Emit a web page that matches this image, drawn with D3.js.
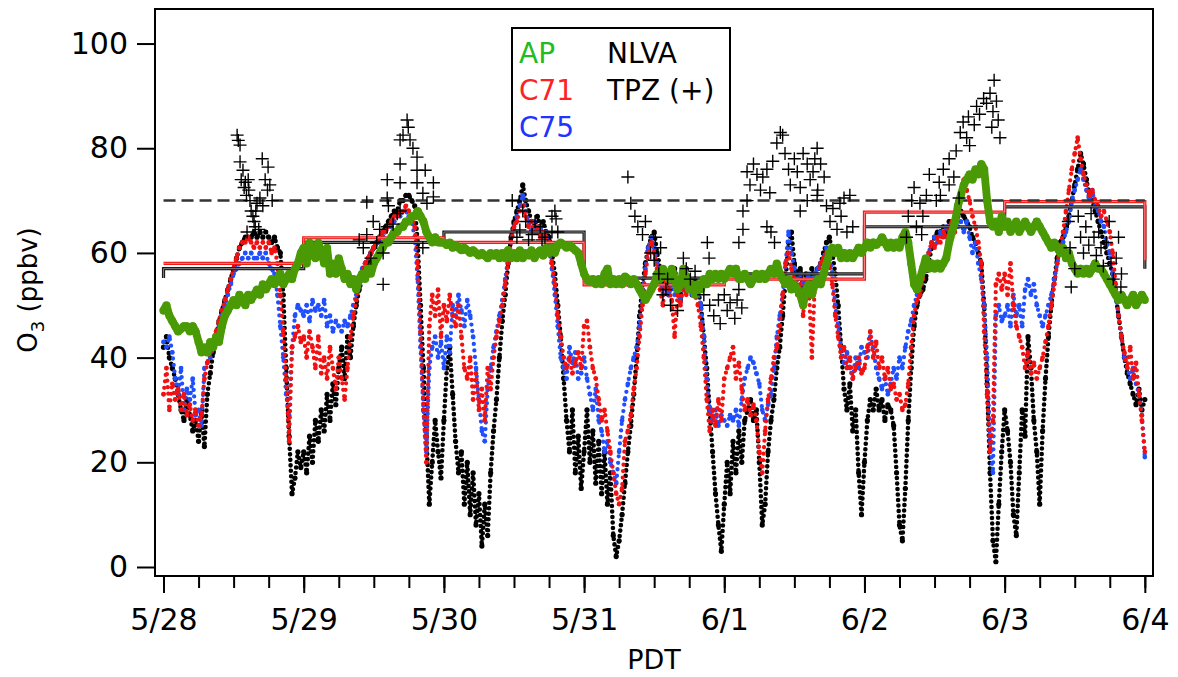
<!DOCTYPE html>
<html>
<head>
<meta charset="utf-8">
<script src="https://cdn.jsdelivr.net/npm/d3@7"></script>
<style>
body { margin: 0; background: #fff; }
svg { font-family: "DejaVu Sans", sans-serif; }
</style>
</head>
<body>
<svg id="chart" width="1178" height="677"></svg>
<script>
// O3 (ppbv), half-hour samples from 5/28 00:00 PDT, one row per day
var sampleStep = 0.5; // hours

var nlva = [
  42,44,40,38,36,33,30,28,32,29,26,28,24,30,23,33,37,41,44,47,49,51,53,55,57,59,61,62,63,63,63,64,63,64,63,64,63,62,63,61,60,52,38,25,14,17,22,19,
  22,18,25,20,28,24,30,26,33,28,35,31,38,42,36,44,40,46,50,53,55,57,58,60,61,62,63,64,65,66,67,68,68,70,70,71,71,70,69,62,50,38,25,12,20,28,22,17,
  28,38,42,33,24,18,22,12,20,10,18,8,14,4,12,6,18,26,32,40,47,52,58,63,66,68,70,73,70,68,66,65,67,65,66,64,63,60,56,50,44,36,28,22,30,18,25,15,
  22,30,20,26,16,24,14,22,12,18,6,2,5,10,16,22,27,33,40,48,54,58,61,63,64,60,57,54,56,52,55,57,54,51,55,57,54,52,55,53,50,44,38,30,22,14,8,3,
  12,20,14,24,18,26,20,28,30,32,28,30,20,8,12,22,28,32,38,42,48,55,62,64,58,55,57,53,56,54,57,55,57,58,60,62,63,60,56,50,42,34,30,35,26,30,18,10,
  20,28,32,30,34,30,32,28,31,30,27,18,8,5,15,28,38,46,50,52,53,55,58,61,63,64,64,65,64,66,65,66,67,68,67,66,65,63,62,60,58,50,35,18,5,1,12,22,
  30,26,20,10,6,18,30,25,44,38,28,22,12,26,36,44,50,55,59,62,63,65,67,70,73,76,79,77,74,71,70,68,66,64,62,60,58,56,52,48,44,40,37,35,33,31,34,30,32
];

var c71 = [
  33,38,30,35,32,34,30,33,29,31,28,30,27,29,36,39,41,43,45,47,49,51,53,55,57,59,61,62,62,63,62,61,62,61,62,61,62,60,61,58,52,45,36,24,42,44,46,43,
  44,40,45,42,38,44,37,40,36,42,38,34,40,36,32,38,44,48,51,54,56,58,59,60,61,62,63,64,64,65,66,67,67,68,68,69,68,67,65,58,45,30,20,46,52,48,53,44,
  50,47,52,48,46,50,44,38,36,40,32,37,30,34,28,38,34,40,44,47,50,54,58,62,65,66,68,69,67,65,66,64,65,63,64,63,62,58,54,48,44,40,38,40,37,39,41,38,
  46,47,42,38,36,32,28,30,26,22,18,14,12,15,24,26,29,34,38,44,50,56,60,62,60,57,53,50,55,53,51,44,52,50,54,52,55,53,52,50,46,40,32,26,30,27,32,28,
  36,38,40,42,36,39,34,30,32,29,31,28,22,18,26,32,36,40,42,46,52,58,60,57,55,52,54,48,55,53,40,54,55,58,59,60,58,54,48,44,40,42,38,40,36,38,40,37,
  38,42,45,40,43,38,40,36,38,34,35,32,33,30,31,35,42,48,51,52,55,58,60,62,61,63,62,64,63,65,66,64,68,70,74,72,70,67,65,62,58,45,33,22,28,54,56,53,
  56,52,58,50,46,44,42,38,41,37,39,36,38,40,43,46,50,54,58,61,64,68,72,76,79,82,78,75,73,71,72,70,69,67,68,66,64,60,54,48,44,41,38,42,36,39,33,28,22
];

var c75 = [
  43,42,44,41,36,33,38,30,34,32,36,29,30,27,38,39,40,42,44,46,48,50,52,54,56,57,58,59,60,59,60,59,59,60,59,60,58,57,56,52,46,40,33,29,42,48,50,49,
  48,50,47,51,49,50,48,51,46,48,45,47,46,45,47,46,48,50,52,55,57,58,59,60,61,62,62,63,64,65,65,66,67,67,68,68,67,66,63,55,42,30,22,38,42,44,40,43,
  38,44,41,50,48,52,49,46,51,48,44,38,32,26,24,34,38,42,45,48,51,55,59,62,65,67,69,71,68,66,64,66,64,65,63,64,61,57,52,46,40,38,36,42,39,41,36,37,
  40,36,33,30,34,28,26,22,24,20,18,16,22,28,32,35,38,40,42,46,52,57,61,63,61,58,55,52,54,52,54,52,53,51,53,55,54,52,54,52,50,44,36,30,28,30,27,29,
  28,27,29,28,30,27,32,36,38,40,39,37,35,30,28,31,33,38,44,48,52,58,64,60,57,55,56,54,55,56,54,56,57,58,59,61,60,56,50,46,42,39,41,38,36,40,38,42,
  41,40,44,42,38,36,34,36,33,35,38,36,40,38,42,45,47,50,52,54,56,58,60,62,63,62,64,63,65,64,65,66,65,66,64,66,63,60,62,58,55,50,40,24,18,48,50,47,
  48,50,46,52,48,50,46,53,55,52,54,50,48,46,48,50,52,55,58,60,62,64,66,70,72,74,76,74,72,70,72,69,68,66,65,62,60,56,52,48,44,40,38,36,38,35,33,29,21
];

var ap = [
  49,50,48,47,46,45,45.5,46,46,45,46,45,43,41,42,41,43,42,44,43,46,48,49,50,51,50,52,51,50,52,51,52,53,52,54,53,54,55,54,55,56,54,55,56,55,57,58,60,
  61,58,62,60,59,62,60,58,61,56,58,56,59,57,55,56,54,55,53,55,56,55,57,56,58,59,60,61,62,62,63,64,64,65,65,66,66,67,67,68,67,66,64,63,62,63,62,62,
  62,61.5,62,61,61.5,61,60.5,61,60.5,60,60.5,60,59.5,60,59.5,59,60,59.5,60,59,60,59,60.5,59,60,59,60.5,59,60,59.5,60.5,59,60,60.5,59.5,61,60,61,60,61.5,62,61.5,61,61.5,61,60.5,60,58,
  56,55,54.5,55,54,55,54,56,57,54,55,54,55,54,55.5,55,54,55,54,53,52,51,52,53,54,56,55,57,56,55,57,55,53,54,57,55,53,54,52,54,53,55,54,56,55,56,55,56,
  55,56,57,56,57,55,55,56,55,54,55,56,55,56,55,56,57,56,58,56,55,54,55,53,54,53,52,50,53,54,52,54,55,54,56,58,60,61,60,61,59,60,59,60,59,60,61,60,
  61,62,61,62,61.5,62,63,62,61,62,61,62,61,63,64,62,58,54,53,55,57,59,57,58,57,58,57,58,59,62,64,66,69,71,73,74,75,74,76,75,77,76,70,66,65,66,64,67,
  65,66,64,65,66,64,65,66,65,64,65,66,65,64,63,62,61,62,61,60,61,59,60,58,57,56,57,56,57,56,57,58,57,57,56,55,54,53,52,51,52,51,50,51,52,50,51,52,51
];

// TPZ (+): [hour since 5/28 00:00, ppbv]
var tpz = [
  [12.6,82.5],[12.8,81.5],[13.1,80.6],[13.1,77.4],[13.6,75.8],[13.3,74],[14.0,73.5],[14.5,74],[13.8,72.5],[14.6,72],[14.2,71],[14.8,70],
  [15.0,68],[15.3,67],[15.5,66],[14.3,64],[15.7,65],[16.3,64.5],[16.9,78],[17.9,76.4],[17.4,74],[18.2,73],[17.8,72],[18.6,70],[16.5,70.5],
  [17.0,69],[16.0,69.5],[15.8,68],
  [41.7,85.4],[41.9,84],[41.0,82.5],[40.5,81.6],[42.2,81.6],[42.7,80],[43.4,78.3],[40.5,77],[43.4,75.8],[44.8,75.8],[46.2,73.4],[38.3,74],
  [40.5,73.4],[43.4,73.4],[44.4,71.4],[38.3,70.5],[38.5,69],[46.2,70.7],[34.8,69.7],[45.1,69.5],[35.9,66],[37.0,64.5],[38.3,65],[34.8,63.5],
  [36.5,62],[37.6,60],[35.5,59],[40.0,67.5],[40.5,68],[39.3,65.5],[37.6,54],[44.4,61],[33.5,62.5],[34.2,61],
  [59.7,70],[60.5,63],[61,64.4],[62.5,62.5],[63.1,63.5],[63.6,66],[64.5,65],[65.3,63],[66.5,67],[67.0,68],[67.2,66.5],[66.5,64],[67.5,64],
  [64.8,62.5],[62.0,66],[61.5,68],
  [79.5,74.5],[80.0,69.5],[80.7,67],[81.2,65],[82.0,63.5],[82.5,66],[83.4,60],[84.2,63],[84.0,58.6],[84.8,56],[85.1,61],[86.3,55],[85.5,52],
  [86.8,50],[88.0,49],[86.0,53],[89.0,59],[89.5,57],[90.2,55],[91.0,56.5],[93.1,62],[93.4,59],[92.5,52],[93.5,50],[94.2,48],[95.0,51],
  [95.3,46.5],[96.0,52],[96.5,49],[97.0,50.5],[97.8,47.5],[98.2,51],[99.0,49.5],[98.5,53],
  [98.5,62],[99.2,64.5],[99.2,68],[99.9,70],[100.4,73],[99.9,75.5],[101.0,77],[101.6,75],[102.2,72],[102.6,74.5],[103.3,76],[103.8,71.5],
  [104.3,77.5],[103.3,65],[104.0,64],[104.6,62],[105.0,81],[105.6,83],[106.0,82.5],[106.4,79],[107.0,76],[107.3,73],[108.0,78],[108.5,75.5],
  [109.0,72.5],[109.5,79],[110.2,77],[110.7,74],[110.2,70],[109.0,68],[111.2,75.5],[111.9,71],[111.5,78],[111.9,80],[112.5,77],[113.1,74.5],
  [112.0,72],[113.5,69],[114.6,68.5],[114.1,66],[115.3,64.5],[116.0,67],[116.5,70.5],[117.5,71],[117.0,64],[115.8,69.5],[118.0,65],
  [127.2,63],[127.5,67],[128.1,70],[128.5,72.5],[128.9,65],[129.8,63.5],[130.0,67],[129.5,69.5],[130.6,71],[131.1,75],[132.3,70],[132.8,73.5],
  [133.5,76],[133.0,71],[134.5,73],[134.5,78],[135.3,74.5],[135.7,79.5],[136.2,70.5],[136.4,83],[136.9,85],[137.5,82],[137.8,86],[138.0,80.5],
  [138.8,84.5],[139.2,88],[139.7,86.5],[140.4,89.5],[140.9,88.6],[141.5,90.5],[142.0,87],[142.2,93],[142.6,89],[142.9,85.4],[143.2,82],[141.8,84],
  [154.9,66],[155.2,61],[155.4,53.5],[156.0,57],[156.6,67],[157.0,63],[157.5,60],[157.9,65],[158.4,61.5],[158.8,67.5],[159.3,63],[159.7,59.5],
  [160.1,64],[160.5,61],[160.9,57.5],[161.4,62],[161.9,66],[162.2,58],[162.6,55],[163.1,59],[163.5,63],[164.0,56],[163.9,53.5]
];

// daily values (step lines), [hour, ppbv]
var nlvaDaily = [[0,55.2],[0,57],[24,62],[48,64],[72,55.2],[96,56],[120,65],[144,68.8],[168,57]];
var c71Daily = [[0,58],[24,62.9],[48,62],[72,53.9],[96,55],[120,67.8],[144,69.8],[168,58.6]];
var standardO3 = 70;

var dayLabels = ["5/28", "5/29", "5/30", "5/31", "6/1", "6/2", "6/3", "6/4"];
var yTicks = [0, 20, 40, 60, 80, 100];

var svg = d3.select("#chart");
var plotL = 155, plotR = 1153, plotT = 9, plotB = 576;

var x = d3.scaleLinear().domain([-1.46, 169.4]).range([plotL, plotR]);
var y = d3.scaleLinear().domain([-1.72, 106.6]).range([plotB, plotT]);

function pts(arr) {
  return arr.map(function(v, i) { return [i * sampleStep, v]; });
}

var plot = svg.append("g");
var trace = d3.line()
  .x(function(d) { return x(d[0]); })
  .y(function(d) { return y(d[1]); });

// each site: dots at the samples plus a dotted trace between them,
// so the record reads as the dense scatter of the original
function series(arr, color, r, dotW, gap) {
  var p = pts(arr);
  plot.append("path").attr("d", trace(p))
    .attr("fill", "none").attr("stroke", color).attr("stroke-width", dotW)
    .attr("stroke-linecap", "round").attr("stroke-dasharray", "0 " + gap);
  plot.append("g").selectAll("circle")
    .data(p)
    .enter().append("circle")
      .attr("cx", function(d) { return x(d[0]); })
      .attr("cy", function(d) { return y(d[1]); })
      .attr("r", r)
      .attr("fill", color);
}

series(nlva, "#000", 2.6, 4.6, 5.5);
series(c75, "#1f4fff", 2.4, 4.3, 6.5);
series(c71, "#f21010", 2.4, 4.3, 6.5);

// daily step lines
var stepLine = d3.line()
  .x(function(d) { return x(d[0]); })
  .y(function(d) { return y(d[1]); })
  .curve(d3.curveStepAfter);

[[nlvaDaily, "#1a1a1a", "#9a9a9a"], [c71Daily, "#f01818", "#ffa0a0"]].forEach(function(s) {
  plot.append("path").attr("d", stepLine(s[0]))
    .attr("fill", "none").attr("stroke", s[1]).attr("stroke-width", 3.2);
  plot.append("path").attr("d", stepLine(s[0]))
    .attr("fill", "none").attr("stroke", s[2]).attr("stroke-width", 0.8);
});

// 70 ppbv standard
plot.append("line")
  .attr("x1", x(0)).attr("x2", x(168))
  .attr("y1", y(standardO3)).attr("y2", y(standardO3))
  .attr("stroke", "#333").attr("stroke-width", 2.5)
  .attr("stroke-dasharray", "12,6");

series(ap, "#4a9a06", 4, 8, 2.5);

plot.append("g").selectAll("path")
  .data(tpz)
  .enter().append("path")
    .attr("d", "M-6.5,0H6.5M0,-6.5V6.5")
    .attr("transform", function(d) { return "translate(" + x(d[0]) + "," + y(d[1]) + ")"; })
    .attr("stroke", "#000").attr("stroke-width", 1.4);

// frame
svg.append("rect")
  .attr("x", plotL).attr("y", plotT)
  .attr("width", plotR - plotL).attr("height", plotB - plotT)
  .attr("fill", "none").attr("stroke", "#000").attr("stroke-width", 2);

// axes
var minorX = svg.append("g")
  .attr("transform", "translate(0," + plotB + ")")
  .call(d3.axisBottom(x).tickValues(d3.range(0, 169, 6)).tickSize(12).tickFormat(""));
var majorX = svg.append("g")
  .attr("transform", "translate(0," + plotB + ")")
  .call(d3.axisBottom(x).tickValues(d3.range(0, 169, 24)).tickSize(17).tickPadding(16)
    .tickFormat(function(d, i) { return dayLabels[i]; }));
var yAxis = svg.append("g")
  .attr("transform", "translate(" + plotL + ",0)")
  .call(d3.axisLeft(y).tickValues(yTicks).tickSize(18).tickPadding(9));

[minorX, majorX, yAxis].forEach(function(g) {
  g.select(".domain").remove();
  g.selectAll(".tick line").attr("stroke", "#000").attr("stroke-width", 2);
  g.selectAll(".tick text").attr("fill", "#000")
    .style("font-family", "DejaVu Sans").style("font-size", "30px");
});

svg.append("text")
  .attr("x", (plotL + plotR) / 2).attr("y", 669)
  .attr("text-anchor", "middle")
  .style("font-size", "27px")
  .text("PDT");

var ylab = svg.append("text")
  .attr("transform", "translate(37,290) rotate(-90)")
  .attr("text-anchor", "middle")
  .style("font-size", "26px");
ylab.append("tspan").text("O");
ylab.append("tspan").attr("dy", 7).style("font-size", "18px").text("3");
ylab.append("tspan").attr("dy", -7).text(" (ppbv)");

// legend
var legend = svg.append("g");
legend.append("rect")
  .attr("x", 512).attr("y", 28).attr("width", 218).attr("height", 122)
  .attr("fill", "#fff").attr("stroke", "#000").attr("stroke-width", 2);
var legendItems = [
  ["AP", 519, 63, "#22bb22"],
  ["C71", 519, 100, "#ff2222"],
  ["C75", 519, 137, "#2233ff"],
  ["NLVA", 607, 63, "#000"],
  ["TPZ (+)", 607, 100, "#000"]
];
legend.selectAll("text")
  .data(legendItems)
  .enter().append("text")
    .attr("x", function(d) { return d[1]; })
    .attr("y", function(d) { return d[2]; })
    .attr("fill", function(d) { return d[3]; })
    .style("font-size", "28px")
    .text(function(d) { return d[0]; });
</script>
</body>
</html>
